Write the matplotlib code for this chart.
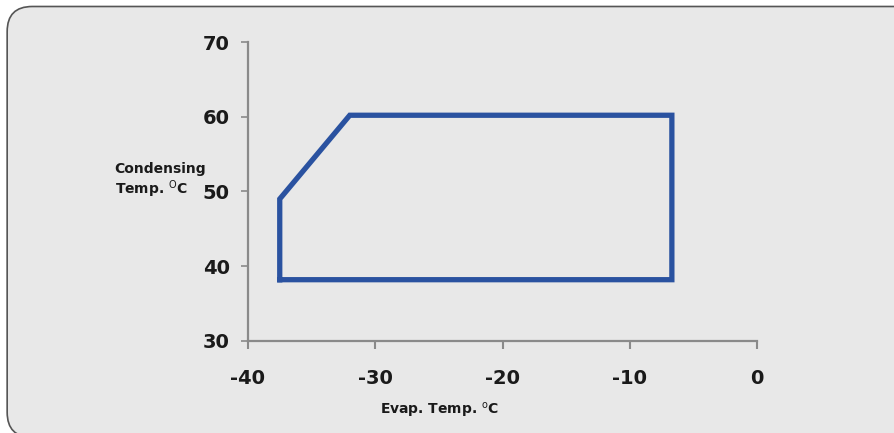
import matplotlib
matplotlib.use("Agg")
import matplotlib.pyplot as plt
from matplotlib.patches import FancyBboxPatch

evap = [-37.5, -37.5, -32.0, -6.7, -6.7, -37.5]
cond = [38.2, 49.0, 60.2, 60.2, 38.2, 38.2]
xticks = [-40, -30, -20, -10, 0]
yticks = [30, 40, 50, 60, 70]

plt.rcParams['font.family'] = ['DejaVu Sans']
plt.rcParams['axes.unicode_minus'] = False

fig = plt.figure(figsize=(8.95, 4.33), dpi=100)
fig.patch.set_facecolor('white')
bg = FancyBboxPatch((0.008, -0.01), 1.1, 0.995, boxstyle="round,pad=0,rounding_size=0.028",
                    transform=fig.transFigure, facecolor='#e8e8e8', edgecolor='#555555',
                    linewidth=1.2, mutation_aspect=895/433, zorder=-5)
fig.patches.append(bg)

ax = fig.add_axes([0.277, 0.2125, 0.569, 0.6905], zorder=2)
ax.set_facecolor('none')
ax.plot(evap, cond, color='#2a52a0', linewidth=3.8, solid_joinstyle='miter', solid_capstyle='projecting')
ax.set_xlim(-40, 0)
ax.set_ylim(30, 70)
ax.set_xticks(xticks)
ax.set_yticks(yticks)
for s in ['top', 'right']:
    ax.spines[s].set_visible(False)
for s in ['left', 'bottom']:
    ax.spines[s].set_color('#8a8a8a')
    ax.spines[s].set_linewidth(1.6)
ax.tick_params(axis='x', direction='out', length=6, width=1.5, color='#8a8a8a', pad=14, labelsize=14)
ax.tick_params(axis='y', direction='out', length=5, width=1.2, color='#8a8a8a', pad=8, labelsize=14)
for lab in ax.get_xticklabels() + ax.get_yticklabels():
    lab.set_fontweight('bold')
    lab.set_color('#1a1a1a')

fig.text(0.128, 0.61, 'Condensing', fontsize=10, fontweight='bold',
         color='#1a1a1a', ha='left', va='center', zorder=3)
fig.text(0.128, 0.562, 'Temp. $^{\\mathrm{O}}$C', fontsize=10, fontweight='bold',
         color='#1a1a1a', ha='left', va='center', zorder=3)
fig.text(0.425, 0.052, 'Evap. Temp. $^{\\mathrm{o}}$C', fontsize=10, fontweight='bold',
         color='#1a1a1a', ha='left', va='center', zorder=3)

fig.savefig('out.png', dpi=100)
